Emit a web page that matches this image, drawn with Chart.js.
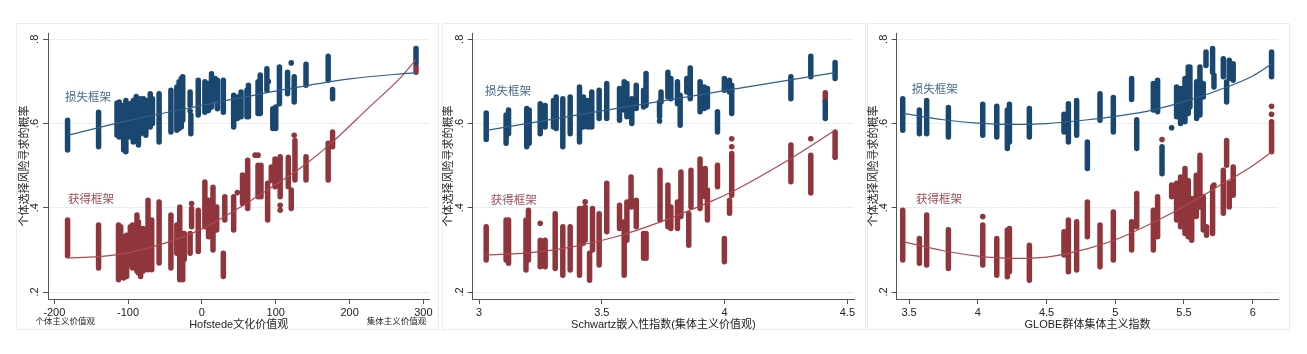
<!DOCTYPE html>
<html>
<head>
<meta charset="utf-8">
<script src="https://cdn.jsdelivr.net/npm/chart.js@4.4.1/dist/chart.umd.min.js"></script>
<style>
body { margin: 0; background: #fff; width: 1307px; height: 354px; position: relative; overflow: hidden; }
.panel { position: absolute; top: 23px; height: 307px; }
</style>
</head>
<body>
<div class="panel" style="left:16px;width:423px"><canvas id="hof"></canvas></div>
<div class="panel" style="left:442px;width:424px"><canvas id="sch"></canvas></div>
<div class="panel" style="left:867px;width:423px"><canvas id="glb"></canvas></div>
<script>
// shared y axis
var yTicks = [0.2, 0.4, 0.6, 0.8];
var yTickLabels = ['.2', '.4', '.6', '.8'];
var yTitle = '个体选择风险寻求的概率';
var lossLabel = '损失框架';
var gainLabel = '获得框架';

// Hofstede panel: stripes are [x, low, high]
var hofTicks = [-200, -100, 0, 100, 200, 300];
var hofLoss = [[-182,0.537,0.608],[-140,0.545,0.627],[-115,0.572,0.649],[-112,0.568,0.651],[-106,0.537,0.643],
  [-103,0.533,0.655],[-97,0.568,0.647],[-93,0.556,0.655],[-89,0.572,0.664],[-86,0.549,0.659],[-83,0.576,0.659],
  [-79,0.584,0.659],[-76,0.572,0.655],[-70,0.592,0.671],[-67,0.600,0.659],[-58,0.556,0.671],[-42,0.580,0.679],
  [-34,0.584,0.687],[-31,0.588,0.699],[-28,0.592,0.707],[-26,0.608,0.711],[-16,0.643,0.675],[-15,0.576,0.620],
  [-5,0.620,0.703],[4,0.627,0.699],[9,0.631,0.695],[13,0.639,0.718],[18,0.659,0.707],[21,0.635,0.703],
  [29,0.627,0.703],[43,0.592,0.667],[48,0.612,0.663],[53,0.616,0.675],[61,0.616,0.679],[63,0.616,0.691],
  [76,0.624,0.699],[79,0.624,0.715],[88,0.679,0.730],[96,0.588,0.635],[100,0.588,0.639],[105,0.647,0.734],
  [116,0.671,0.722],[125,0.651,0.711],[141,0.691,0.741],[171,0.703,0.760],[177,0.659,0.681],[290,0.744,0.778]];
var hofLossDots = [[90,0.700],[121,0.744],[98,0.634],[-16,0.630]];
var hofGain = [[-182,0.286,0.371],[-140,0.257,0.359],[-113,0.229,0.359],[-110,0.240,0.355],[-106,0.233,0.331],
  [-102,0.237,0.335],[-97,0.265,0.355],[-94,0.257,0.359],[-88,0.249,0.383],[-86,0.245,0.367],[-83,0.237,0.339],
  [-80,0.249,0.351],[-77,0.253,0.347],[-73,0.253,0.418],[-68,0.253,0.371],[-58,0.269,0.414],[-42,0.257,0.383],
  [-34,0.292,0.359],[-30,0.229,0.402],[-26,0.229,0.323],[-24,0.277,0.339],[-16,0.292,0.339],[-14,0.355,0.398],
  [-5,0.296,0.394],[4,0.355,0.461],[9,0.331,0.418],[15,0.300,0.449],[20,0.347,0.402],[29,0.237,0.292],
  [31,0.371,0.426],[43,0.347,0.426],[55,0.410,0.478],[62,0.398,0.513],[76,0.426,0.501],[80,0.426,0.501],
  [89,0.371,0.458],[94,0.465,0.497],[99,0.450,0.516],[103,0.462,0.505],[106,0.426,0.521],[117,0.450,0.520],
  [121,0.398,0.442],[126,0.466,0.560],[141,0.466,0.521],[171,0.466,0.553],[177,0.545,0.580],[290,0.722,0.736]];
var hofGainDots = [[-14,0.410],[48,0.436],[72,0.525],[76,0.525],[106,0.406],[106,0.394],[125,0.572]];
var hofLossFit = [[-182,0.572],[-100,0.607],[0,0.643],[100,0.677],[200,0.706],[290,0.721]];
var hofGainFit = [[-182,0.281],[-140,0.284],[-100,0.293],[-50,0.316],[0,0.350],[45,0.394],[90,0.444],
  [140,0.503],[171,0.547],[225,0.636],[270,0.711],[290,0.752]];

// Schwartz panel
var schTicks = [3, 3.5, 4, 4.5];
var schLoss = [[3.029,0.562,0.625],[3.110,0.553,0.620],[3.120,0.576,0.632],[3.194,0.545,0.636],[3.204,0.553,0.632],
  [3.249,0.576,0.647],[3.269,0.592,0.643],[3.303,0.592,0.655],[3.314,0.588,0.663],[3.341,0.545,0.659],
  [3.371,0.576,0.663],[3.409,0.556,0.687],[3.425,0.592,0.663],[3.443,0.592,0.655],[3.459,0.592,0.675],
  [3.489,0.612,0.679],[3.520,0.612,0.695],[3.572,0.608,0.683],[3.591,0.632,0.699],[3.602,0.616,0.695],
  [3.622,0.600,0.659],[3.640,0.636,0.691],[3.670,0.639,0.679],[3.680,0.643,0.719],[3.735,0.616,0.651],
  [3.741,0.651,0.675],[3.769,0.663,0.722],[3.781,0.659,0.707],[3.808,0.647,0.699],[3.819,0.596,0.667],
  [3.846,0.675,0.707],[3.860,0.659,0.726],[3.900,0.628,0.699],[3.917,0.636,0.687],[3.930,0.639,0.683],
  [3.971,0.580,0.628],[3.999,0.679,0.707],[4.020,0.675,0.703],[4.029,0.624,0.691],[4.270,0.659,0.711],
  [4.351,0.711,0.760],[4.410,0.612,0.652],[4.450,0.707,0.745]];
var schLossDots = [[3.735,0.606],[3.860,0.732]];
var schGain = [[3.029,0.276,0.355],[3.110,0.276,0.371],[3.120,0.268,0.371],[3.191,0.252,0.371],[3.201,0.276,0.394],
  [3.249,0.260,0.323],[3.269,0.260,0.323],[3.310,0.256,0.386],[3.341,0.240,0.355],[3.371,0.252,0.355],
  [3.409,0.240,0.398],[3.423,0.315,0.398],[3.432,0.323,0.402],[3.450,0.228,0.292],[3.462,0.300,0.398],
  [3.489,0.264,0.386],[3.520,0.343,0.458],[3.572,0.351,0.406],[3.591,0.240,0.367],[3.602,0.323,0.414],
  [3.619,0.402,0.473],[3.640,0.355,0.418],[3.670,0.280,0.339],[3.680,0.280,0.339],[3.737,0.371,0.489],
  [3.769,0.355,0.454],[3.781,0.351,0.402],[3.808,0.351,0.414],[3.822,0.379,0.485],[3.854,0.311,0.386],
  [3.863,0.402,0.489],[3.900,0.398,0.516],[3.921,0.426,0.493],[3.930,0.371,0.442],[3.971,0.450,0.501],
  [3.999,0.272,0.327],[4.020,0.387,0.418],[4.029,0.430,0.529],[4.270,0.462,0.549],[4.351,0.435,0.525],
  [4.410,0.655,0.673],[4.450,0.525,0.580]];
var schGainDots = [[3.249,0.363],[3.432,0.414],[4.029,0.545],[4.029,0.564],[4.351,0.564],[4.450,0.520]];
var schLossFit = [[3.03,0.584],[3.5,0.630],[4.0,0.678],[4.45,0.721]];
var schGainFit = [[3.03,0.288],[3.2,0.293],[3.37,0.306],[3.55,0.330],[3.75,0.369],[3.94,0.414],[4.02,0.435],
  [4.27,0.517],[4.45,0.584]];

// GLOBE panel
var glbTicks = [3.5, 4, 4.5, 5, 5.5, 6];
var glbLoss = [[3.454,0.584,0.659],[3.575,0.576,0.632],[3.628,0.576,0.655],[3.786,0.568,0.638],[4.036,0.572,0.646],
  [4.138,0.568,0.641],[4.215,0.541,0.632],[4.230,0.556,0.646],[4.375,0.568,0.636],[4.627,0.580,0.622],
  [4.659,0.556,0.647],[4.719,0.572,0.655],[4.797,0.493,0.556],[4.889,0.608,0.671],[4.986,0.580,0.662],
  [5.119,0.657,0.707],[5.156,0.541,0.609],[5.277,0.632,0.695],[5.308,0.628,0.703],[5.340,0.481,0.545],
  [5.446,0.616,0.687],[5.475,0.600,0.683],[5.507,0.604,0.707],[5.531,0.624,0.734],[5.543,0.639,0.734],
  [5.592,0.612,0.699],[5.616,0.620,0.734],[5.640,0.663,0.695],[5.660,0.738,0.770],[5.708,0.722,0.778],
  [5.718,0.687,0.715],[5.786,0.711,0.754],[5.810,0.651,0.699],[5.829,0.707,0.750],[5.858,0.703,0.742],
  [6.137,0.711,0.770]];
var glbLossDots = [[5.410,0.590]];
var glbGain = [[3.454,0.276,0.394],[3.575,0.268,0.327],[3.628,0.264,0.383],[3.786,0.256,0.348],[4.036,0.264,0.359],
  [4.138,0.240,0.327],[4.215,0.236,0.347],[4.230,0.248,0.351],[4.375,0.228,0.311],[4.627,0.288,0.343],
  [4.659,0.248,0.371],[4.719,0.252,0.367],[4.797,0.331,0.414],[4.889,0.260,0.359],[4.986,0.276,0.390],
  [5.119,0.300,0.367],[5.156,0.355,0.434],[5.277,0.300,0.394],[5.308,0.331,0.426],[5.410,0.426,0.454],
  [5.446,0.371,0.458],[5.475,0.355,0.473],[5.507,0.339,0.493],[5.531,0.331,0.465],[5.556,0.323,0.422],
  [5.589,0.379,0.477],[5.616,0.402,0.525],[5.640,0.347,0.426],[5.664,0.335,0.355],[5.708,0.339,0.450],
  [5.786,0.387,0.489],[5.810,0.501,0.560],[5.829,0.402,0.458],[5.858,0.430,0.497],[6.137,0.533,0.604]];
var glbGainDots = [[4.036,0.379],[5.340,0.562],[5.718,0.454],[6.137,0.622],[6.137,0.641]];
var glbLossFit = [[3.46,0.624],[3.75,0.609],[4.0,0.601],[4.25,0.598],[4.5,0.600],[4.8,0.609],[5.0,0.617],
  [5.27,0.632],[5.5,0.652],[5.75,0.679],[6.0,0.713],[6.14,0.742]];
var glbGainFit = [[3.46,0.319],[3.75,0.298],[4.0,0.285],[4.25,0.280],[4.5,0.283],[4.8,0.303],[5.0,0.324],
  [5.27,0.364],[5.5,0.403],[5.75,0.451],[6.0,0.500],[6.14,0.533]];

var FONT = '"Liberation Sans", Arial, "Noto Sans CJK SC", sans-serif';
var BLUE = '#1a476f', RED = '#90353b';

function stripeData(rows) {
  var out = [];
  rows.forEach(function (r) {
    out.push({x: r[0], y: r[1]}, {x: r[0], y: r[2]}, {x: r[0], y: null});
  });
  return out;
}
function pts(rows) {
  return rows.map(function (r) { return {x: r[0], y: r[1]}; });
}

function textPlugin(p) {
  return {
    id: 'panelText',
    afterDraw: function (chart) {
      var ctx = chart.ctx, a = chart.chartArea, xs = chart.scales.x, ys = chart.scales.y;
      ctx.save();
      ctx.strokeStyle = '#e6eef0';
      ctx.lineWidth = 1;
      ctx.strokeRect(0.5, 0.5, chart.width - 1, chart.height - 1);

      ctx.fillStyle = '#222';
      ctx.font = '11px ' + FONT;
      ctx.textAlign = 'center';
      ctx.textBaseline = 'middle';
      p.ticks.forEach(function (v) {
        ctx.fillText(String(v), xs.getPixelForValue(v), a.bottom + 13.5);
      });
      yTicks.forEach(function (v, i) {
        ctx.save();
        ctx.translate(a.left - 13, ys.getPixelForValue(v));
        ctx.rotate(-Math.PI / 2);
        ctx.fillText(yTickLabels[i], 0, 0);
        ctx.restore();
      });
      ctx.fillText(p.title, (a.left + a.right) / 2, a.bottom + 25.5);
      ctx.save();
      ctx.translate(p.yTitleX, (a.top + a.bottom) / 2);
      ctx.rotate(-Math.PI / 2);
      ctx.fillText(yTitle, 0, 0);
      ctx.restore();

      if (p.ends) {
        ctx.font = '8.5px ' + FONT;
        ctx.fillText(p.ends[0], xs.getPixelForValue(p.ticks[0]) + 11, a.bottom + 23);
        ctx.fillText(p.ends[1], xs.getPixelForValue(p.ticks[p.ticks.length - 1]) - 27, a.bottom + 23);
      }

      ctx.font = '11.5px ' + FONT;
      ctx.textAlign = 'left';
      ctx.fillStyle = '#46698f';
      ctx.fillText(lossLabel, xs.getPixelForValue(p.lossAt[0]), ys.getPixelForValue(p.lossAt[1]));
      ctx.fillStyle = '#a24a52';
      ctx.fillText(gainLabel, xs.getPixelForValue(p.gainAt[0]), ys.getPixelForValue(p.gainAt[1]));
      ctx.restore();
    }
  };
}

function makePanel(id, p) {
  var ctx = document.getElementById(id).getContext('2d');
  return new Chart(ctx, {
    type: 'scatter',
    data: {
      datasets: [
        {data: pts(p.lossFit), showLine: true, borderColor: '#2f5f8b', borderWidth: 1.2, pointRadius: 0, cubicInterpolationMode: 'monotone'},
        {data: pts(p.gainFit), showLine: true, borderColor: '#ad4850', borderWidth: 1.2, pointRadius: 0, cubicInterpolationMode: 'monotone'},
        {data: stripeData(p.loss), showLine: true, borderColor: BLUE, borderWidth: 5.5, borderCapStyle: 'round', pointRadius: 0, spanGaps: false},
        {data: pts(p.lossDots), backgroundColor: BLUE, borderWidth: 0, pointRadius: 2.8},
        {data: stripeData(p.gain), showLine: true, borderColor: RED, borderWidth: 5.5, borderCapStyle: 'round', pointRadius: 0, spanGaps: false},
        {data: pts(p.gainDots), backgroundColor: RED, borderWidth: 0, pointRadius: 2.8}
      ]
    },
    options: {
      responsive: true,
      maintainAspectRatio: false,
      animation: false,
      events: [],
      layout: {padding: p.pad},
      plugins: {legend: {display: false}, tooltip: {enabled: false}},
      scales: {
        x: {
          type: 'linear', min: p.xmin, max: p.xmax,
          afterFit: function (s) { s.height = 0; },
          afterBuildTicks: function (s) { s.ticks = p.ticks.map(function (v) { return {value: v}; }); },
          ticks: {display: false},
          grid: {drawOnChartArea: false, tickLength: 5, tickColor: '#555'},
          border: {color: '#555', width: 1}
        },
        y: {
          type: 'linear', min: 0.1834, max: 0.815,
          afterFit: function (s) { s.width = 0; },
          afterBuildTicks: function (s) { s.ticks = yTicks.map(function (v) { return {value: v}; }); },
          ticks: {display: false},
          grid: {color: '#e6eff1', tickLength: 5, tickColor: '#555'},
          border: {color: '#555', width: 1}
        }
      }
    },
    plugins: [textPlugin(p)]
  });
}

var hofChart = makePanel('hof', {
  loss: hofLoss, lossDots: hofLossDots, gain: hofGain, gainDots: hofGainDots,
  lossFit: hofLossFit, gainFit: hofGainFit, ticks: hofTicks, xmin: -208.5, xmax: 308,
  pad: {left: 32, right: 9.7, top: 10, bottom: 31}, yTitleX: 9,
  title: 'Hofstede文化价值观', ends: ['个体主义价值观', '集体主义价值观'],
  lossAt: [-185.5, 0.66], gainAt: [-181.4, 0.418]
});
var schChart = makePanel('sch', {
  loss: schLoss, lossDots: schLossDots, gain: schGain, gainDots: schGainDots,
  lossFit: schLossFit, gainFit: schGainFit, ticks: schTicks, xmin: 2.974, xmax: 4.527,
  pad: {left: 30.7, right: 12, top: 10, bottom: 31}, yTitleX: 7,
  title: 'Schwartz嵌入性指数(集体主义价值观)',
  lossAt: [3.024, 0.675], gainAt: [3.048, 0.416]
});
var glbChart = makePanel('glb', {
  loss: glbLoss, lossDots: glbLossDots, gain: glbGain, gainDots: glbGainDots,
  lossFit: glbLossFit, gainFit: glbGainFit, ticks: glbTicks, xmin: 3.41, xmax: 6.186,
  pad: {left: 29.7, right: 11.7, top: 10, bottom: 31}, yTitleX: 7,
  title: 'GLOBE群体集体主义指数',
  lossAt: [3.520, 0.681], gainAt: [3.551, 0.418]
});
</script>
</body>
</html>
